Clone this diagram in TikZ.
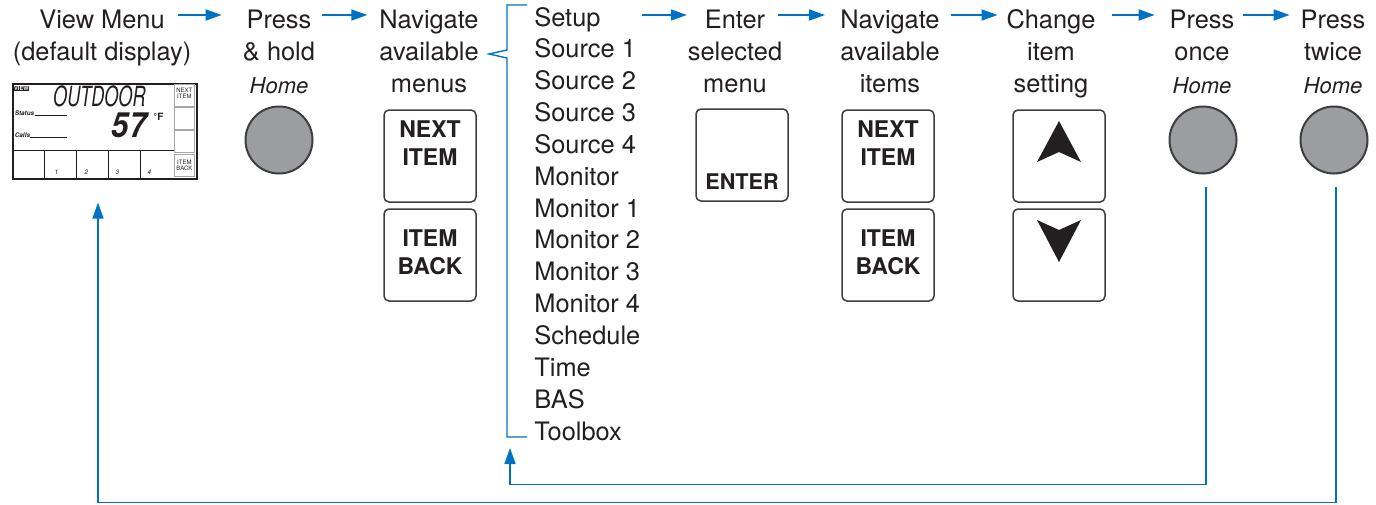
\documentclass[tikz,border=0pt]{standalone}
\usepackage{fontspec}
\setmainfont{TeX Gyre Heros}
\usepackage{tikz}
\usetikzlibrary{arrows.meta}
\definecolor{flowblue}{RGB}{0,114,198}
\definecolor{ink}{RGB}{35,31,32}
\definecolor{keygray}{RGB}{156,157,160}
\definecolor{keyrim}{RGB}{62,62,64}
\newcommand{\colhead}[3]{%
  \foreach \txt [count=\i] in {#3}
    \node[stephead] (#1\i) at (#2,{28+32*(\i-1)}) {\txt};}

\begin{document}
\begin{tikzpicture}[x=0.5pt,y=-0.5pt,
  stephead/.style={anchor=base,inner sep=0pt,text=ink,font=\fontsize{12.7}{16}\selectfont},
  menuitem/.style={stephead,anchor=base west},
  homelabel/.style={stephead,font=\fontsize{11}{13}\selectfont\itshape},
  flow/.style={draw=flowblue,line width=0.8pt,-{Triangle[length=8pt,width=5.5pt]}},
  menubrace/.style={draw=flowblue,line width=0.7pt},
  keybox/.style={draw=keyrim,line width=0.75pt,rounded corners=2.5pt,fill=white,minimum width=46pt,minimum height=46pt,inner sep=0pt},
  keytext/.style={inner sep=0pt,align=center,text=ink,font=\fontsize{11.5}{13.8}\selectfont\bfseries},
  homebtn/.style={circle,draw=keyrim,line width=1pt,fill=keygray,minimum size=33.5pt,inner sep=0pt},
  lcdtag/.style={inner sep=0pt,text=ink,font=\fontsize{3.2}{3.5}\selectfont\bfseries\itshape},
  lcdkey/.style={draw=gray!70,line width=0.3pt}]
\useasboundingbox (0,0) rectangle (1376,504);

% step headings
\colhead{view}{102}{View Menu,{(default display)}}
\colhead{hold}{279}{Press,\& hold}
\colhead{menus}{429}{Navigate,available,menus}
\colhead{enter}{735}{Enter,selected,menu}
\colhead{items}{890}{Navigate,available,items}
\colhead{change}{1051}{Change,item,setting}
\colhead{once}{1202}{Press,once}
\colhead{twice}{1333}{Press,twice}
\node[homelabel] (hold3) at (279,93) {Home};
\node[homelabel] (once3) at (1202,93) {Home};
\node[homelabel] (twice3) at (1333,93) {Home};

% menu list
\foreach \m [count=\i from 0] in {Setup,Source 1,Source 2,Source 3,Source 4,Monitor,Monitor 1,Monitor 2,Monitor 3,Monitor 4,Schedule,Time,BAS,Toolbox}
  \node[menuitem] (menu\i) at (534,{26+31.85*\i}) {\m};
\draw[menubrace] (527,5) -- (507,5) -- (507,50) -- (489,54) -- (507,58) -- (507,437) -- (527,437);
\coordinate (brbot) at (510,437);

% display
\node[draw=ink,line width=0.6pt,minimum width=92pt,minimum height=47.5pt,inner sep=0pt] (lcd) at (105,131.5) {};
\begin{scope}[shift={(lcd.north west)}]
\foreach \a/\b in {1/23,24/46,47/69,71/93}
  \draw[lcdkey] (162,\a) rectangle (182,\b);
\node[lcdtag,align=center,font=\fontsize{3}{3.2}\selectfont] (lcdnext) at (172,10) {NEXT\\ITEM};
\node[lcdtag,align=center,font=\fontsize{3}{3.2}\selectfont] (lcdback) at (172,82) {ITEM\\BACK};
\draw[ink,line width=0.5pt] (0,67) -- (162,67);
\foreach \x in {32,64,96,128}
  \draw[ink,line width=0.4pt] (\x,67) -- (\x,95);
\foreach \n/\x in {1/44,2/74,3/105,4/137}
  \node[lcdtag,font=\fontsize{3.2}{3.5}\selectfont\itshape] (num\n) at (\x,89) {\n};
\node[fill=ink,text=white,inner sep=0.4pt,font=\fontsize{2.8}{3}\selectfont\bfseries] (viewtag) at (9,5) {VIEW};
\node[lcdtag,anchor=base west] (status) at (2,32) {Status};
\draw[ink,line width=0.4pt] (status.base east) -- (55,32);
\node[lcdtag,anchor=base west] (calls) at (2,54) {Calls};
\draw[ink,line width=0.4pt] (calls.base east) -- (55,54);
\node[inner sep=0pt,text=ink,font=\fontsize{13.9}{14}\selectfont\itshape] (outdoor) at (87,13) {\scalebox{0.65}[1]{OUTDOOR}};
\node[inner sep=0pt,text=ink,font=\fontsize{17.4}{18}\selectfont\bfseries\itshape] (temp) at (117,42) {\scalebox{0.9}[1]{57}};
\node[inner sep=0pt,text=ink,font=\fontsize{5}{5}\selectfont\bfseries] (degf) at (146,33) {°F};
\end{scope}

% buttons
\node[homebtn] (holdkey) at (279,140) {};
\node[homebtn] (oncekey) at (1203,140) {};
\node[homebtn] (twicekey) at (1334,140) {};
\node[keybox] (menunext) at (430,156) {};
\node[keybox] (menuback) at (430,255) {};
\node[keybox] (enterkey) at (742,155) {};
\node[keybox] (itemnext) at (888,156) {};
\node[keybox] (itemback) at (888,255) {};
\node[keybox] (upkey) at (1059,156) {};
\node[keybox] (downkey) at (1059,255) {};
\node[keytext] (menunextl) at ([yshift=6.4pt]menunext.center) {NEXT\\ITEM};
\node[keytext] (menubackl) at ([yshift=1.4pt]menuback.center) {ITEM\\BACK};
\node[keytext,font=\fontsize{10.8}{13}\selectfont\bfseries] (enterl) at ([yshift=-13.5pt]enterkey.center) {ENTER};
\node[keytext] (itemnextl) at ([yshift=6.4pt]itemnext.center) {NEXT\\ITEM};
\node[keytext] (itembackl) at ([yshift=1.4pt]itemback.center) {ITEM\\BACK};
\fill[ink,shift={(upkey.center)}] (0,-35) -- (22,6) -- (0,-4) -- (-22,6) -- cycle;
\fill[ink,shift={(downkey.center)}] (0,7) -- (22,-35) -- (0,-25) -- (-22,-35) -- cycle;

% flow arrows
\draw[flow,shorten <=6.6pt,shorten >=12.3pt] ([yshift=6.5pt]view1.base east) -- ([yshift=6.5pt]hold1.base west);
\draw[flow,shorten <=5.2pt,shorten >=5.9pt] ([yshift=6.5pt]hold1.base east) -- ([yshift=6.5pt]menus1.base west);
\draw[flow,shorten <=20.3pt,shorten >=8.8pt] ([yshift=5.5pt]menu0.base east) -- ([yshift=6.5pt]enter1.base west);
\draw[flow,shorten <=6.3pt,shorten >=7.5pt] ([yshift=6.5pt]enter1.base east) -- ([yshift=6.5pt]items1.base west);
\draw[flow,shorten <=5.5pt,shorten >=4.3pt] ([yshift=6.5pt]items1.base east) -- ([yshift=6.5pt]change1.base west);
\draw[flow,shorten <=8.2pt,shorten >=7.3pt] ([yshift=6.5pt]change1.base east) -- ([yshift=6.5pt]once1.base west);
\draw[flow,shorten <=4.3pt,shorten >=5.3pt] ([yshift=6.5pt]once1.base east) -- ([yshift=6.5pt]twice1.base west);
\draw[flow] ([xshift=1.5pt,yshift=-6pt]oncekey.south) -- ++(0,298) -| ([yshift=-5.5pt]brbot);
\draw[flow] ([xshift=1pt,yshift=-6pt]twicekey.south) -- ++(0,316) -| ([xshift=-3.5pt,yshift=-11.5pt]lcd.south);
\end{tikzpicture}
\end{document}
